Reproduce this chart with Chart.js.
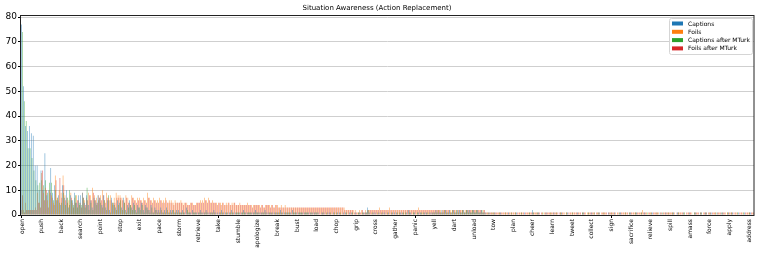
<!DOCTYPE html>
<html lang="en">

<head>
    <meta charset="UTF-8">
    <title>Situation Awareness (Action Replacement)</title>
    <style>
        html, body { margin: 0; padding: 0; background: #fff; }
    </style>
</head>

<body>
    <canvas id="myChart" width="761" height="254"></canvas>

    <script src="https://cdn.jsdelivr.net/npm/chart.js"></script>
    <script>
        // one label every 10 verbs (the rest of the verbs are not shown on the axis)
        const tickLabels = ['open', 'push', 'back', 'search', 'point', 'stop', 'exit', 'pace', 'storm', 'retrieve',
            'take', 'stumble', 'apologize', 'break', 'bust', 'load', 'chop', 'grip', 'cross', 'gather',
            'panic', 'yell', 'dart', 'unload', 'tow', 'plan', 'cheer', 'learn', 'tweet', 'collect',
            'sign', 'sacrifice', 'relieve', 'spill', 'amass', 'force', 'apply', 'address'];

        const captions = [
            77, 52, 36, 34, 36, 33, 32, 20, 20, 10, 18, 10, 25, 8, 10, 19, 9, 12, 6, 8,
            4, 12, 7, 10, 3, 8, 6, 9, 5, 8, 8, 9, 5, 8, 4, 6, 3, 7, 5, 8,
            7, 4, 8, 3, 6, 2, 7, 5, 3, 6, 5, 3, 7, 2, 4, 6, 3, 5, 2, 4,
            3, 5, 2, 4, 3, 2, 4, 1, 3, 2, 2, 3, 1, 2, 3, 1, 2, 2, 1, 2,
            2, 1, 2, 1, 3, 1, 1, 2, 1, 1, 1, 2, 1, 1, 2, 1, 1, 1, 2, 1,
            1, 1, 2, 1, 1, 1, 1, 2, 1, 1, 1, 1, 1, 2, 1, 1, 1, 1, 1, 2,
            1, 1, 1, 1, 2, 1, 1, 1, 1, 1, 1, 1, 2, 1, 1, 1, 1, 1, 2, 1,
            1, 1, 1, 1, 1, 1, 1, 1, 1, 1, 1, 1, 0, 1, 1, 0, 1, 1, 0, 1,
            0, 1, 1, 0, 1, 1, 0, 1, 1, 0, 1, 0, 1, 0, 1, 1, 3, 1, 0, 1,
            1, 0, 1, 0, 1, 1, 0, 1, 0, 1, 1, 1, 0, 1, 1, 0, 1, 2, 1, 0,
            1, 0, 1, 1, 0, 1, 1, 0, 1, 1, 1, 2, 1, 1, 2, 1, 2, 1, 2, 1,
            2, 1, 2, 2, 1, 2, 1, 2, 2, 1, 2, 1, 2, 1, 2, 1, 1, 0, 1, 0,
            0, 1, 0, 0, 1, 0, 0, 0, 1, 0, 0, 0, 1, 0, 0, 0, 1, 0, 0, 0,
            2, 0, 0, 1, 0, 0, 0, 1, 0, 0, 0, 1, 0, 0, 0, 1, 0, 0, 1, 0,
            0, 0, 0, 1, 0, 0, 1, 0, 0, 0, 1, 0, 0, 0, 1, 0, 0, 0, 0, 1,
            0, 0, 1, 0, 0, 1, 0, 0, 0, 0, 1, 0, 0, 1, 0, 0, 0, 1, 0, 0,
            0, 1, 0, 0, 0, 1, 0, 0, 1, 0, 0, 0, 1, 0, 1, 0, 0, 1, 0, 0,
            1, 0, 0, 1, 0, 0, 1, 0, 1, 0, 0, 1, 0, 0, 1, 0, 0, 1, 0, 0,
            1, 0, 1, 0, 0, 1, 0, 0, 1, 0, 0, 1, 0
        ];

        const foils = [
            2, 2, 5, 2, 2, 2, 2, 3, 9, 5, 17, 9, 11, 6, 10, 8, 5, 16, 7, 10,
            9, 16, 8, 7, 6, 9, 5, 7, 8, 6, 5, 9, 6, 7, 9, 8, 11, 8, 7, 8,
            8, 10, 6, 9, 7, 8, 5, 7, 9, 8, 8, 7, 6, 8, 7, 5, 8, 7, 6, 7,
            7, 6, 7, 6, 9, 7, 6, 7, 6, 6, 7, 6, 6, 7, 5, 6, 6, 5, 6, 5,
            5, 6, 5, 5, 5, 4, 5, 5, 4, 5, 5, 6, 6, 7, 6, 7, 5, 6, 5, 5,
            5, 5, 5, 4, 5, 5, 4, 5, 5, 4, 4, 5, 4, 4, 4, 5, 4, 4, 4, 4,
            4, 4, 4, 3, 4, 4, 4, 4, 3, 4, 4, 3, 4, 3, 4, 3, 3, 3, 3, 3,
            3, 3, 3, 3, 3, 3, 3, 3, 3, 3, 3, 3, 3, 3, 3, 3, 3, 3, 3, 3,
            3, 3, 3, 3, 3, 2, 2, 2, 2, 2, 2, 1, 2, 2, 1, 2, 2, 2, 2, 2,
            2, 2, 3, 2, 2, 2, 2, 3, 2, 2, 2, 2, 2, 2, 2, 2, 2, 2, 2, 2,
            2, 2, 3, 2, 2, 2, 2, 2, 2, 2, 2, 2, 2, 2, 2, 2, 2, 2, 2, 2,
            2, 2, 2, 2, 2, 2, 2, 2, 2, 2, 2, 2, 2, 2, 2, 2, 1, 1, 1, 1,
            1, 1, 1, 1, 1, 1, 1, 1, 1, 1, 1, 1, 0, 1, 1, 1, 0, 1, 1, 1,
            1, 1, 1, 1, 0, 1, 1, 1, 1, 1, 1, 1, 1, 0, 1, 1, 1, 1, 0, 1,
            1, 1, 1, 1, 1, 0, 1, 1, 1, 1, 1, 1, 0, 1, 1, 1, 1, 1, 0, 1,
            1, 1, 1, 1, 0, 1, 1, 1, 1, 0, 1, 1, 1, 1, 1, 1, 2, 1, 1, 1,
            1, 0, 1, 1, 1, 1, 0, 1, 1, 1, 1, 1, 1, 0, 1, 1, 1, 1, 0, 1,
            1, 1, 0, 1, 1, 0, 1, 1, 1, 0, 1, 0, 1, 1, 1, 1, 0, 1, 1, 1,
            1, 1, 0, 1, 1, 0, 1, 1, 0, 1, 1, 0, 1
        ];

        const captionsMTurk = [
            74, 46, 38, 27, 27, 23, 18, 14, 12, 13, 14, 12, 14, 9, 13, 13, 6, 10, 7, 5,
            5, 9, 4, 7, 10, 6, 4, 8, 3, 5, 4, 7, 3, 11, 2, 5, 2, 6, 4, 6,
            5, 3, 6, 2, 8, 1, 5, 4, 2, 4, 6, 2, 5, 1, 3, 4, 2, 4, 1, 3,
            2, 4, 1, 3, 2, 1, 3, 1, 2, 1, 1, 2, 1, 1, 2, 1, 1, 2, 1, 1,
            1, 1, 1, 0, 2, 1, 0, 1, 1, 0, 1, 1, 0, 1, 1, 0, 1, 1, 1, 0,
            0, 1, 1, 0, 1, 0, 1, 1, 0, 1, 1, 0, 1, 1, 0, 1, 1, 0, 1, 1,
            1, 0, 1, 1, 1, 0, 1, 1, 0, 1, 1, 1, 1, 0, 1, 1, 1, 0, 1, 1,
            0, 1, 1, 0, 1, 1, 0, 1, 0, 1, 1, 0, 0, 1, 0, 1, 0, 1, 0, 1,
            1, 0, 1, 0, 0, 1, 0, 0, 1, 0, 0, 1, 0, 1, 0, 1, 2, 0, 1, 0,
            0, 1, 0, 1, 0, 0, 1, 0, 1, 0, 0, 1, 1, 0, 1, 1, 0, 1, 0, 1,
            0, 1, 0, 1, 1, 0, 1, 1, 0, 1, 1, 1, 2, 1, 1, 2, 1, 1, 1, 2,
            1, 2, 1, 1, 2, 1, 2, 1, 1, 2, 1, 2, 1, 1, 2, 1, 0, 1, 0, 1,
            1, 0, 0, 1, 0, 0, 1, 0, 0, 1, 0, 1, 0, 0, 1, 0, 0, 0, 1, 0,
            1, 0, 1, 0, 0, 1, 0, 0, 0, 1, 0, 0, 1, 0, 1, 0, 0, 1, 0, 0,
            1, 0, 0, 0, 0, 1, 0, 0, 1, 0, 0, 1, 0, 1, 0, 0, 1, 0, 0, 0,
            1, 0, 0, 0, 1, 0, 0, 1, 0, 1, 0, 0, 1, 0, 0, 1, 0, 0, 1, 0,
            1, 0, 0, 1, 0, 0, 1, 0, 0, 1, 0, 1, 0, 0, 1, 0, 0, 1, 0, 0,
            0, 0, 1, 0, 0, 1, 0, 0, 1, 0, 1, 0, 0, 1, 0, 0, 1, 0, 0, 1,
            0, 1, 0, 0, 1, 0, 0, 1, 0, 0, 1, 0, 0
        ];

        const foilsMTurk = [
            8, 1, 2, 2, 2, 2, 2, 2, 5, 3, 18, 6, 10, 3, 9, 7, 4, 14, 6, 15,
            7, 12, 6, 5, 4, 7, 3, 5, 6, 4, 3, 7, 4, 6, 8, 6, 9, 6, 5, 7,
            6, 8, 5, 7, 6, 6, 4, 5, 7, 7, 7, 6, 5, 7, 5, 4, 7, 6, 5, 6,
            6, 5, 6, 5, 7, 6, 5, 6, 5, 5, 6, 5, 5, 6, 5, 5, 5, 4, 5, 5,
            5, 5, 4, 5, 4, 4, 5, 4, 4, 5, 5, 5, 5, 6, 5, 6, 5, 5, 5, 4,
            5, 4, 5, 4, 4, 5, 4, 4, 5, 4, 4, 4, 4, 4, 4, 4, 4, 3, 4, 4,
            4, 3, 4, 3, 4, 4, 3, 4, 3, 4, 3, 3, 3, 3, 3, 3, 3, 3, 3, 3,
            3, 3, 3, 3, 3, 3, 3, 3, 3, 3, 3, 3, 3, 3, 3, 3, 3, 3, 3, 3,
            3, 3, 3, 3, 2, 2, 2, 2, 2, 1, 1, 1, 1, 2, 1, 1, 2, 2, 2, 2,
            2, 2, 2, 2, 2, 2, 2, 2, 2, 2, 2, 2, 2, 2, 2, 2, 2, 2, 2, 2,
            2, 2, 2, 2, 2, 2, 2, 2, 2, 2, 2, 2, 2, 1, 2, 2, 2, 2, 1, 2,
            2, 1, 2, 2, 2, 1, 2, 2, 2, 2, 2, 2, 2, 2, 1, 2, 1, 1, 1, 1,
            1, 1, 1, 1, 1, 1, 1, 1, 1, 1, 1, 1, 1, 1, 1, 1, 1, 1, 1, 1,
            1, 1, 1, 1, 1, 0, 1, 1, 1, 1, 1, 1, 1, 1, 1, 1, 0, 1, 1, 1,
            1, 1, 1, 1, 1, 1, 1, 0, 1, 1, 1, 1, 1, 1, 0, 1, 1, 1, 1, 1,
            1, 1, 0, 1, 1, 1, 1, 1, 1, 1, 1, 1, 1, 1, 1, 1, 1, 1, 0, 1,
            1, 1, 1, 1, 0, 1, 1, 1, 1, 1, 1, 1, 0, 1, 1, 1, 1, 0, 1, 1,
            1, 0, 1, 1, 1, 1, 0, 1, 1, 1, 1, 1, 1, 0, 1, 1, 1, 1, 0, 1,
            1, 1, 1, 1, 0, 1, 1, 0, 1, 1, 1, 1, 1
        ];

        const seriesNames = ['Captions', 'Foils', 'Captions after MTurk', 'Foils after MTurk'];
        const seriesColors = ['#1f77b4', '#ff7f0e', '#2ca02c', '#d62728'];

        // every verb is a category, only every 10th one gets a name on the axis
        const labels = captions.map((_, i) => i % 10 === 0 ? tickLabels[i / 10] : '');

        Chart.defaults.font.family = "'DejaVu Sans', sans-serif";
        Chart.defaults.color = '#000';

        // box around the plot and the legend in the upper right corner
        const framePlugin = {
            id: 'frame',
            afterDraw(chart) {
                const { ctx, chartArea: ca } = chart;
                ctx.save();
                ctx.strokeStyle = '#222';
                ctx.lineWidth = 1;
                ctx.strokeRect(Math.round(ca.left) - 0.5, Math.round(ca.top) + 0.5,
                    Math.round(ca.right - ca.left) + 0.5, Math.round(ca.bottom - ca.top));

                const bx = ca.right - 85, by = ca.top + 3, bw = 83, bh = 36;
                ctx.fillStyle = 'rgba(255,255,255,0.85)';
                ctx.strokeStyle = '#d5d5d5';
                ctx.beginPath();
                ctx.roundRect(bx + 0.5, by + 0.5, bw, bh, 2);
                ctx.fill();
                ctx.stroke();

                ctx.font = "6px 'DejaVu Sans'";
                ctx.textBaseline = 'middle';
                chart.data.datasets.forEach((ds, k) => {
                    const y = by + 5.5 + k * 8.3;
                    ctx.fillStyle = ds.backgroundColor;
                    ctx.fillRect(bx + 3, y - 2, 11, 4);
                    ctx.fillStyle = '#000';
                    ctx.fillText(ds.label, bx + 19, y + 0.5);
                });
                ctx.restore();
            }
        };

        const chart = new Chart(document.getElementById('myChart'), {
            type: 'bar',
            data: {
                labels: labels,
                datasets: [captions, foils, captionsMTurk, foilsMTurk].map((values, k) => ({
                    label: seriesNames[k],
                    data: values,
                    backgroundColor: seriesColors[k],
                    borderWidth: 0,
                    inflateAmount: 0,
                    categoryPercentage: 0.85,
                    barPercentage: 1
                }))
            },
            options: {
                responsive: false,
                animation: false,
                devicePixelRatio: 1,
                layout: { padding: { right: 7, left: 0, bottom: 0, top: 0 } },
                plugins: {
                    legend: { display: false },
                    tooltip: { enabled: false },
                    title: {
                        display: true,
                        text: 'Situation Awareness (Action Replacement)',
                        font: { size: 7, weight: 'normal' },
                        color: '#000',
                        padding: { top: 3.5, bottom: 3.1 }
                    }
                },
                scales: {
                    x: {
                        grid: {
                            drawOnChartArea: false,
                            offset: false,
                            tickLength: 3,
                            tickColor: (ctx) => ctx.index % 10 === 0 ? '#000' : 'rgba(0,0,0,0)'
                        },
                        border: { display: false },
                        ticks: {
                            autoSkip: false,
                            minRotation: 90,
                            maxRotation: 90,
                            padding: 1,
                            font: { size: 6 },
                            callback: function (value) {
                                const l = this.getLabelForValue(value);
                                return l === '' ? null : l;
                            }
                        },
                        afterFit: (scale) => { scale.height = 39; }
                    },
                    y: {
                        min: 0,
                        max: 80.85,
                        grid: {
                            color: '#cfcfcf',
                            lineWidth: 1,
                            tickLength: 3,
                            tickColor: '#000'
                        },
                        border: { display: false },
                        ticks: {
                            stepSize: 10,
                            includeBounds: false,
                            padding: 1,
                            font: { size: 9 }
                        },
                        afterFit: (scale) => { scale.width = 21; }
                    }
                }
            },
            plugins: [framePlugin]
        });
    </script>
</body>

</html>
